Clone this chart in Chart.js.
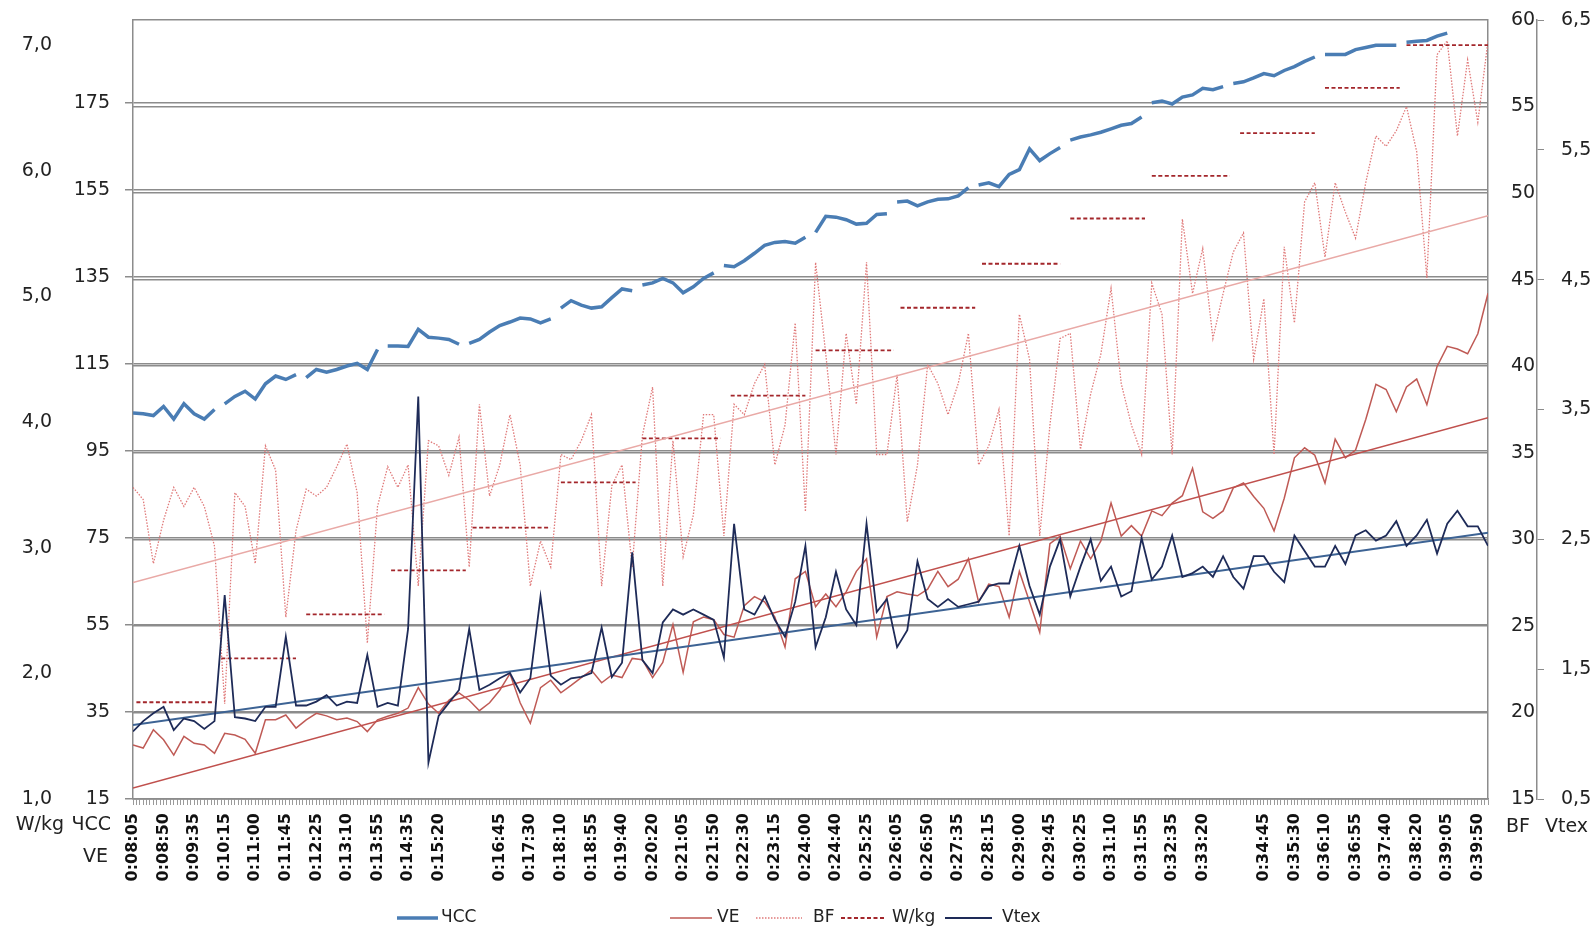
<!DOCTYPE html>
<html>
<head>
<meta charset="utf-8">
<script src="https://cdn.jsdelivr.net/npm/chart.js@4/dist/chart.umd.min.js"></script>
<style>
  html, body { margin: 0; padding: 0; background: #fff; }
  #wrap { width: 1596px; height: 940px; position: relative; }
</style>
</head>
<body>
<div id="wrap"><canvas id="c"></canvas></div>
<script>
// ── ДАННЫЕ ────────────────────────────────────────────────────────
// одно значение на каждые 3 отсчёта (индексы 0, 3, 6 … 399)
const STEP = 3;

const timeLabels = [
  '0:08:05', '0:08:50', '0:09:35', '0:10:15', '0:11:00', '0:11:45', '0:12:25', '0:13:10',
  '0:13:55', '0:14:35', '0:15:20', '', '0:16:45', '0:17:30', '0:18:10', '0:18:55',
  '0:19:40', '0:20:20', '0:21:05', '0:21:50', '0:22:30', '0:23:15', '0:24:00', '0:24:40',
  '0:25:25', '0:26:05', '0:26:50', '0:27:35', '0:28:15', '0:29:00', '0:29:45', '0:30:25',
  '0:31:10', '0:31:55', '0:32:35', '0:33:20', '', '0:34:45', '0:35:30', '0:36:10',
  '0:36:55', '0:37:40', '0:38:20', '0:39:05', '0:39:50'
];

const hr = [
  103.7, 103.5, 103.1, 105.2, 102.3, 105.8, 103.5, 102.3, 104.5, 105.8,
  107.5, 108.7, 106.9, 110.4, 112.2, 111.4, 112.5, 111.8, 113.7, 113.1,
  113.7, 114.5, 115.1, 113.7, 118.3, 119.1, 119.1, 119.0, 122.9, 121.1,
  120.9, 120.6, 119.5, 119.7, 120.6, 122.3, 123.8, 124.6, 125.5, 125.3,
  124.4, 125.3, 127.8, 129.5, 128.5, 127.8, 128.1, 130.2, 132.2, 131.8,
  133.1, 133.6, 134.6, 133.6, 131.3, 132.7, 134.6, 135.9, 137.6, 137.3,
  138.7, 140.4, 142.2, 142.9, 143.1, 142.7, 144.1, 145.2, 148.9, 148.7,
  148.1, 147.1, 147.3, 149.3, 149.5, 152.2, 152.4, 151.3, 152.2, 152.8,
  152.9, 153.6, 155.5, 156.1, 156.6, 155.7, 158.5, 159.6, 164.4, 161.7,
  163.3, 164.7, 166.4, 167.1, 167.6, 168.2, 169.0, 169.8, 170.2, 171.7,
  175.0, 175.4, 174.7, 176.3, 176.8, 178.3, 178.0, 178.7, 179.4, 179.8,
  180.7, 181.7, 181.2, 182.4, 183.3, 184.5, 185.5, 186.1, 186.1, 186.1,
  187.2, 187.7, 188.2, 188.2, 188.2, 188.9, 189.1, 189.3, 190.3, 191.0,
  null, null, null, null
];

const ve = [
  27.4, 26.7, 30.9, 28.6, 25.1, 29.4, 27.8, 27.4, 25.5, 30.1,
  29.7, 28.7, 25.5, 33.2, 33.2, 34.3, 31.3, 33.2, 34.7, 34.1,
  33.2, 33.6, 32.8, 30.5, 33.2, 34.0, 34.7, 35.9, 40.6, 36.8,
  34.7, 37.7, 39.4, 37.7, 35.3, 37.1, 40.0, 43.8, 37.1, 32.4,
  40.6, 42.3, 39.4, 41.1, 42.9, 44.6, 41.7, 43.5, 42.9, 47.3,
  47.0, 42.9, 46.4, 55.1, 44.1, 55.7, 56.8, 56.2, 52.8, 52.2,
  59.4, 61.5, 60.3, 56.8, 49.9, 65.6, 67.3, 59.2, 62.1, 59.2,
  62.6, 67.3, 70.2, 52.2, 61.5, 62.6, 62.1, 61.7, 63.2, 67.3,
  63.8, 65.5, 70.2, 60.3, 64.4, 63.8, 56.8, 67.3, 60.3, 53.3,
  73.7, 75.4, 67.9, 74.3, 70.2, 74.3, 83.0, 75.4, 77.8, 75.4,
  81.2, 80.1, 83.0, 84.7, 91.0, 81.0, 79.5, 81.2, 86.5, 87.6,
  84.5, 81.8, 76.6, 84.1, 93.4, 95.7, 94.0, 87.6, 97.7, 93.4,
  95.2, 102.2, 110.3, 109.1, 104.0, 109.7, 111.5, 105.6, 114.4, 119.0,
  118.4, 117.3, 121.9, 131.2
];

const bf = [
  33.0, 32.3, 28.6, 31.1, 33.0, 31.9, 33.0, 31.9, 29.6, 20.5,
  32.7, 31.9, 28.6, 35.4, 34.0, 25.5, 30.5, 32.9, 32.5, 33.0,
  34.2, 35.5, 32.7, 24.0, 31.9, 34.2, 33.0, 34.3, 27.3, 35.7,
  35.4, 33.7, 35.9, 28.4, 37.8, 32.5, 34.3, 37.2, 34.3, 27.3,
  29.9, 28.4, 34.9, 34.6, 35.7, 37.2, 27.3, 33.1, 34.3, 28.4,
  36.0, 38.8, 27.3, 35.7, 29.0, 31.4, 37.2, 37.2, 30.2, 37.8,
  37.2, 39.0, 40.1, 34.3, 36.6, 42.5, 31.6, 46.0, 40.7, 34.9,
  41.9, 37.8, 46.0, 34.9, 34.9, 39.5, 31.0, 34.3, 40.1, 39.0,
  37.2, 39.0, 41.9, 34.3, 35.4, 37.5, 30.2, 43.0, 40.4, 30.2,
  36.6, 41.6, 41.9, 35.2, 38.4, 40.7, 44.5, 39.0, 36.6, 34.9,
  44.8, 43.0, 34.9, 48.5, 44.2, 46.8, 41.6, 44.2, 46.6, 47.7,
  40.4, 43.9, 34.9, 46.9, 42.5, 49.5, 50.6, 46.3, 50.6, 48.9,
  47.4, 50.6, 53.3, 52.7, 53.6, 55.0, 52.4, 45.1, 58.0, 58.8,
  53.3, 57.7, 54.1, 58.8
];

const vtex = [
  1.02, 1.10, 1.16, 1.21, 1.03, 1.12, 1.10, 1.04, 1.10, 2.07,
  1.13, 1.12, 1.10, 1.21, 1.21, 1.75, 1.22, 1.22, 1.25, 1.30,
  1.22, 1.25, 1.24, 1.61, 1.21, 1.24, 1.22, 1.81, 3.60, 0.78,
  1.14, 1.24, 1.34, 1.81, 1.34, 1.38, 1.43, 1.47, 1.32, 1.43,
  2.06, 1.45, 1.38, 1.43, 1.44, 1.47, 1.82, 1.44, 1.55, 2.40,
  1.57, 1.47, 1.86, 1.96, 1.92, 1.96, 1.92, 1.88, 1.59, 2.62,
  1.96, 1.92, 2.06, 1.88, 1.75, 2.02, 2.45, 1.67, 1.90, 2.25,
  1.96, 1.84, 2.62, 1.94, 2.04, 1.67, 1.80, 2.33, 2.04, 1.98,
  2.04, 1.98, 2.00, 2.02, 2.14, 2.16, 2.16, 2.45, 2.14, 1.92,
  2.29, 2.50, 2.06, 2.29, 2.50, 2.18, 2.29, 2.06, 2.10, 2.51,
  2.19, 2.29, 2.53, 2.21, 2.24, 2.29, 2.21, 2.37, 2.21, 2.12,
  2.37, 2.37, 2.25, 2.17, 2.53, 2.41, 2.29, 2.29, 2.45, 2.31,
  2.53, 2.57, 2.49, 2.53, 2.64, 2.45, 2.53, 2.65, 2.39, 2.62,
  2.72, 2.60, 2.60, 2.45
];

// ступени нагрузки W/kg: начало, конец (индекс отсчёта), значение
const wkgStart = [1, 26, 51, 76, 100, 126, 150, 176, 201, 226, 250, 276, 300, 326, 351, 375];
const wkgEnd   = [24, 48, 74, 98, 123, 148, 173, 198, 224, 248, 273, 298, 323, 348, 373, 399];
const wkgValue = [1.77, 2.12, 2.47, 2.82, 3.16, 3.52, 3.87, 4.21, 4.57, 4.91, 5.26, 5.62, 5.96, 6.30, 6.66, 7.00];

// линейные тренды: значения в первом и последнем отсчёте
const trendX  = [0, 399];
const veTrend = [17.5, 102.6];
const bfTrend = [27.5, 48.7];
const vtTrend = [1.07, 2.55];

// подписи осей
const wkgTicks = [1, 2, 3, 4, 5, 6, 7];
const hrTicks  = [15, 35, 55, 75, 95, 115, 135, 155, 175];
const bfTicks  = [15, 20, 25, 30, 35, 40, 45, 50, 55, 60];
const vtTicks  = [0.5, 1.5, 2.5, 3.5, 4.5, 5.5, 6.5];

// ── ХЕЛПЕРЫ ───────────────────────────────────────────────────────

function toPts(vals) {
  return vals.map((v, i) => ({ x: i * STEP, y: v }));
}

// ЧСС рвётся на стыках ступеней нагрузки
function toPtsBroken(vals) {
  const pts = [];
  vals.forEach((v, i) => {
    const x = i * STEP;
    pts.push({ x, y: v });
    if (wkgEnd.some(b => b >= x && b < x + STEP && b < wkgEnd[wkgEnd.length - 1])) {
      pts.push({ x: x + 1, y: null });
    }
  });
  return pts;
}

function trendPts(vals) {
  return vals.map((v, i) => ({ x: trendX[i], y: v }));
}

function stepPts() {
  const pts = [];
  wkgValue.forEach((v, i) => {
    pts.push({ x: wkgStart[i], y: v }, { x: wkgEnd[i], y: v }, { x: wkgEnd[i] + 0.5, y: null });
  });
  return pts;
}

function fmtComma(v) {
  return Number(v).toFixed(1).replace('.', ',');
}

function fixTicks(values) {
  return s => { s.ticks = values.map(v => ({ value: v })); };
}

// фиксированная ширина оси, без запаса под подписи сверху/снизу
function fixWidth(w) {
  return s => { s.width = w; s.paddingTop = 0; s.paddingBottom = 0; };
}

// ── ГРАФИК ────────────────────────────────────────────────────────

const GRID = '#8c8c8c';
const C_HR = '#4a7db4';
const C_VE = '#bf5a55';
const C_BF = '#e07a7a';
const C_WKG = '#a3262b';
const C_VT = '#1e2b58';

Chart.defaults.font.family = '"DejaVu Sans", sans-serif';
Chart.defaults.color = '#222';

const legendItems = [
  { label: 'ЧСС',  x0: 397, x1: 438, tx: 441, color: C_HR,  width: 3.5, dash: [] },
  { label: 'VE',   x0: 670, x1: 712, tx: 717, color: C_VE,  width: 1.5, dash: [] },
  { label: 'BF',   x0: 756, x1: 802, tx: 813, color: C_BF,  width: 1.3, dash: [1.5, 1.5] },
  { label: 'W/kg', x0: 841, x1: 886, tx: 892, color: C_WKG, width: 1.8, dash: [4, 2.5] },
  { label: 'Vtex', x0: 945, x1: 992, tx: 1002, color: C_VT, width: 1.8, dash: [] },
];

const captions = {
  id: 'captions',
  afterDraw(chart) {
    const ctx = chart.ctx;
    ctx.save();
    ctx.fillStyle = '#222';
    ctx.textBaseline = 'middle';
    ctx.font = '19px "DejaVu Sans"';
    ctx.textAlign = 'right';
    ctx.fillText('W/kg', 64, 825);
    ctx.fillText('ЧСС', 111, 825);
    ctx.fillText('VE', 108, 857);
    ctx.textAlign = 'left';
    ctx.fillText('BF', 1506, 827);
    ctx.fillText('Vtex', 1545, 827);

    // легенда
    ctx.font = '17px "DejaVu Sans"';
    const y = 918;
    legendItems.forEach(it => {
      ctx.beginPath();
      ctx.setLineDash(it.dash);
      ctx.strokeStyle = it.color;
      ctx.lineWidth = it.width;
      ctx.moveTo(it.x0, y);
      ctx.lineTo(it.x1, y);
      ctx.stroke();
      ctx.setLineDash([]);
      ctx.fillText(it.label, it.tx, y);
    });
    ctx.restore();
  }
};

const xTickValues = Array.from({ length: 400 }, (_, i) => i);

new Chart(document.getElementById('c'), {
  type: 'line',
  data: {
    datasets: [
      { label: 'Vtex', data: toPts(vtex), yAxisID: 'yV', borderColor: C_VT, borderWidth: 1.8 },
      { label: 'Vtex trend', data: trendPts(vtTrend), yAxisID: 'yV', borderColor: '#3d6394', borderWidth: 2 },
      { label: 'VE trend', data: trendPts(veTrend), yAxisID: 'yH', borderColor: '#c0504d', borderWidth: 1.5 },
      { label: 'BF trend', data: trendPts(bfTrend), yAxisID: 'yB', borderColor: '#e9a9a6', borderWidth: 1.5 },
      { label: 'W/kg', data: stepPts(), yAxisID: 'yW', borderColor: C_WKG, borderWidth: 1.8, borderDash: [4, 2.5] },
      { label: 'ЧСС', data: toPtsBroken(hr), yAxisID: 'yH', borderColor: C_HR, borderWidth: 3.5 },
      { label: 'VE', data: toPts(ve), yAxisID: 'yH', borderColor: C_VE, borderWidth: 1.5 },
      { label: 'BF', data: toPts(bf), yAxisID: 'yB', borderColor: C_BF, borderWidth: 1.3, borderDash: [1.5, 1.5] },
    ]
  },
  options: {
    responsive: true,
    maintainAspectRatio: false,
    animation: false,
    devicePixelRatio: 1,
    layout: { padding: { top: 20, left: 0, right: 0, bottom: 0 } },
    elements: { point: { radius: 0 }, line: { tension: 0 } },
    plugins: { legend: { display: false }, tooltip: { enabled: false } },
    scales: {
      x: {
        type: 'linear', min: 0, max: 399,
        afterBuildTicks: fixTicks(xTickValues),
        afterFit: s => { s.height = 141; },
        grid: { drawOnChartArea: false, drawTicks: true, tickLength: 6, color: '#9a9a9a', lineWidth: 1 },
        border: { display: true, color: GRID, width: 1.5 },
        ticks: {
          autoSkip: false, minRotation: 90, maxRotation: 90, padding: 8,
          color: '#111', font: { size: 16, weight: 'bold' },
          callback: v => (v % 9 === 0 ? (timeLabels[v / 9] || '') : '')
        }
      },
      yW: {
        type: 'linear', position: 'left', weight: 2, min: 1, max: 7.2,
        afterBuildTicks: fixTicks(wkgTicks), afterFit: fixWidth(60),
        grid: { display: false, drawTicks: false },
        border: { display: false },
        ticks: { padding: 8, font: { size: 19 }, callback: fmtComma }
      },
      yH: {
        type: 'linear', position: 'left', weight: 1, min: 15, max: 194,
        afterBuildTicks: fixTicks(hrTicks), afterFit: fixWidth(73),
        grid: { color: GRID, lineWidth: 1.5, drawTicks: true, tickLength: 8 },
        border: { display: true, color: GRID, width: 1.5 },
        ticks: { padding: 15, font: { size: 19 } }
      },
      yB: {
        type: 'linear', position: 'right', weight: 1, min: 15, max: 60,
        afterBuildTicks: fixTicks(bfTicks), afterFit: fixWidth(49),
        grid: { color: GRID, lineWidth: 1.5, drawTicks: false },
        border: { display: true, color: GRID, width: 1.5 },
        ticks: { padding: 23, font: { size: 19 } }
      },
      yV: {
        type: 'linear', position: 'right', weight: 2, min: 0.5, max: 6.5,
        afterBuildTicks: fixTicks(vtTicks), afterFit: fixWidth(59),
        grid: { drawOnChartArea: false, drawTicks: true, tickLength: 7, color: GRID },
        border: { display: true, color: GRID, width: 1.5 },
        ticks: { padding: 17, font: { size: 19 }, callback: fmtComma }
      }
    }
  },
  plugins: [captions]
});
</script>
</body>
</html>
